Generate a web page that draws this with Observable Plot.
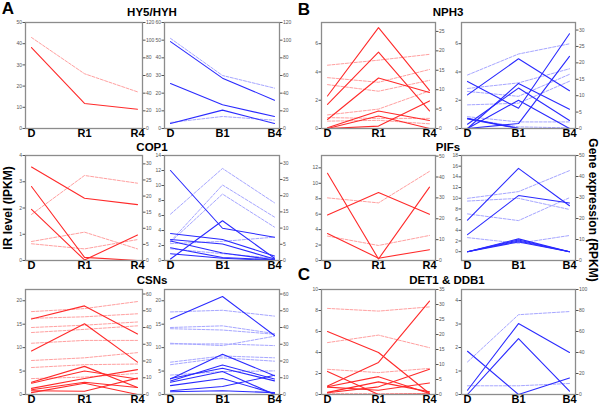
<!DOCTYPE html>
<html><head><meta charset="utf-8">
<script src="https://cdn.jsdelivr.net/npm/d3@7"></script>
<script src="https://cdn.jsdelivr.net/npm/@observablehq/plot@0.6"></script>
<style>
body{margin:0;background:#fff;font-family:"Liberation Sans",Arial,sans-serif;}
#root{position:relative;width:600px;height:407px;overflow:hidden;background:#fff;}
.lbl{position:absolute;font-weight:bold;color:#000;white-space:nowrap;line-height:1;}
.ttl{line-height:0.9;}
</style></head><body><div id="root"></div>
<script>
// ---------- categories ----------
const redCats = ["D", "R1", "R4"];
const blueCats = ["D", "B1", "B4"];

// ---------- HY5/HYH ----------
const hy5RedIR = [[38.2, 11.8, 9.1]];
const hy5RedExpr = [[103, 62, 41.5]];
const hy5RedLeft = [0, 50], hy5RedLeftTicks = [0, 10, 20, 30, 40, 50];
const hy5RedRight = [0, 120], hy5RedRightTicks = [0, 20, 40, 60, 80, 100, 120];

const hy5BlueIR = [[49.2, 28.5, 16.0], [25.5, 13.4, 6.8], [2.8, 10.4, 2.8]];
const hy5BlueExpr = [[102, 60, 45.7], [6.8, 13.6, 9.4]];
const hy5BlueLeft = [0, 60], hy5BlueLeftTicks = [0, 10, 20, 30, 40, 50, 60];
const hy5BlueRight = [0, 120], hy5BlueRightTicks = [0, 20, 40, 60, 80, 100, 120];

// ---------- COP1 ----------
const cop1RedIR = [[3.56, 2.37, 2.13], [2.82, 0.12, 0.0], [1.95, 0.02, 0.97], [0, 0, 0]];
const cop1RedExpr = [[14.3, 26.4, 24.0], [5.9, 8.8, 3.6], [5.2, 3.6, 6.5]];
const cop1RedLeft = [0, 4], cop1RedLeftTicks = [0, 1, 2, 3, 4];
const cop1RedRight = [0, 32.6], cop1RedRightTicks = [0, 5, 10, 15, 20, 25, 30];

const cop1BlueIR = [[12.0, 4.3, 3.1], [0.2, 5.3, 0.3], [3.6, 2.8, 0.6], [2.8, 2.2, 0.2],
                    [2.6, 1.0, 0.1], [1.7, 0.4, 0.1], [0.9, 0.3, 0.0]];
const cop1BlueExpr = [[14.3, 28.4, 17.8], [5.9, 23.3, 13.4], [5.7, 20.5, 10.3], [5.2, 5.9, 7.2], [3.6, 2.1, 0.7]];
const cop1BlueLeft = [0, 14], cop1BlueLeftTicks = [0, 2, 4, 6, 8, 10, 12, 14];
const cop1BlueRight = [0, 32.4], cop1BlueRightTicks = [0, 5, 10, 15, 20, 25, 30];

// ---------- CSNs ----------
const csnRedIR = [[16.1, 18.9, 12.9], [9.3, 15.1, 6.9], [2.6, 6.0, 1.5], [2.4, 5.0, 3.3], [1.3, 3.4, 5.3],
                  [1.0, 2.6, 1.5], [0.8, 0.7, 3.5], [0.4, 2.4, 0.0], [0, 0, 0]];
const csnRedExpr = [[49.5, 51.3, 55.5], [45.5, 46.4, 48.2], [40, 41.4, 43.3], [37, 38.9, 41],
                    [30.6, 32.3, 32.3], [20.3, 21.9, 25], [16.1, 17.8, 18.2], [9.5, 10.4, 12.6]];
const csnRedLeft = [0, 22.4], csnRedLeftTicks = [0, 5, 10, 15, 20];
const csnRedRight = [0, 62.7], csnRedRightTicks = [0, 10, 20, 30, 40, 50, 60];

const csnBlueIR = [[16.1, 20.9, 12.6], [3.3, 8.6, 4.0], [2.9, 6.3, 3.3], [3.4, 5.6, 2.9],
                   [2.6, 4.9, 0], [1.9, 3.4, 0.2], [0.8, 1.7, 4.1], [0.6, 0.8, 0.4]];
const csnBlueExpr = [[49.3, 50.3, 46.8], [40, 41, 36.4], [39.3, 38.5, 36], [30.6, 29.2, 34.8],
                     [30.2, 30.2, 29.2], [19.3, 23, 21.9], [17.8, 21.9, 19.9], [11.6, 13.7, 14.1]];
const csnBlueLeft = [0, 22.4], csnBlueLeftTicks = [0, 5, 10, 15, 20];
const csnBlueRight = [0, 62.7], csnBlueRightTicks = [0, 10, 20, 30, 40, 50, 60];

// ---------- NPH3 ----------
const nph3RedIR = [[2.3, 7.14, 2.7], [1.7, 5.4, 1.24], [0.64, 3.57, 2.55], [0.05, 1.24, 0.57],
                   [0, 0.88, 0], [0, 0.17, 1.95]];
const nph3RedExpr = [[16.3, 17.6, 19.1], [13.1, 11.9, 15.2], [11.3, 9.6, 12.4], [3.5, 5.0, 9.7],
                     [2.8, 2.6, 2.6], [1.9, 2.1, 1.2]];
const nph3RedLeft = [0, 7.5], nph3RedLeftTicks = [0, 2, 4, 6];
const nph3RedRight = [0, 27.3], nph3RedRightTicks = [0, 5, 10, 15, 20, 25];

const nph3BlueIR = [[2.38, 4.93, 2.67], [3.33, 1.43, 6.7], [0, 3.19, 1.36], [0.3, 2.86, 0.57],
                    [0, 2.0, 0], [0, 0.35, 5.1], [0.72, 0.02, 0], [0.68, 0, 0]];
const nph3BlueExpr = [[16.3, 22.7, 25.8], [12.2, 13.9, 18.2], [11.3, 9.8, 16.5], [7.2, 7.7, 14.4],
                      [3.6, 2.0, 2.0], [3.0, 0.5, 0.2]];
const nph3BlueLeft = [0, 7.5], nph3BlueLeftTicks = [0, 2, 4, 6];
const nph3BlueRight = [0, 32.3], nph3BlueRightTicks = [0, 5, 10, 15, 20, 25, 30];

// ---------- PIFs ----------
const pifRedIR = [[11.3, 0.2, 9.5], [5.9, 8.8, 6.0], [3.5, 0.3, 1.4]];
const pifRedExpr = [[30, 27.6, 42.7], [11.7, 7.2, 12.0]];
const pifRedLeft = [0, 13.6], pifRedLeftTicks = [0, 2, 4, 6, 8, 10, 12];
const pifRedRight = [0, 50.3], pifRedRightTicks = [0, 10, 20, 30, 40, 50];

const pifBlueIR = [[5.9, 15.6, 8.6], [3.2, 10.5, 9.1], [0, 2.4, 0], [0, 2.0, 0], [0, 1.8, 0], [0, 2.2, 0]];
const pifBlueExpr = [[29.6, 32.8, 42.8], [28.3, 29.6, 24.3], [22.2, 19.0, 29.9], [10.9, 8.2, 11.9]];
const pifBlueLeft = [-1.65, 18], pifBlueLeftTicks = [0, 2, 4, 6, 8, 10, 12, 14, 16, 18];
const pifBlueRight = [0, 50], pifBlueRightTicks = [0, 10, 20, 30, 40, 50];

// ---------- DET1 & DDB1 ----------
const detRedIR = [[0.8, 3.05, 8.9], [6.0, 4.0, 0.1], [2.2, 0, 0.05], [0.73, 1.7, 0.1],
                  [0.2, 1.2, 0.25], [0.16, 0.73, 2.4], [0.7, 0.4, 1.1], [0, 0, 0]];
const detRedExpr = [[28.7, 27.8, 29.2], [17.3, 19.8, 15.6], [8.4, 7.3, 8.7], [0.3, 0.3, 0.3]];
const detRedLeft = [0, 10], detRedLeftTicks = [0, 2, 4, 6, 8, 10];
const detRedRight = [0, 35], detRedRightTicks = [0, 5, 10, 15, 20, 25, 30, 35];

const detBlueIR = [[1.84, 0, 0.7], [0.18, 3.02, 1.79], [0, 2.38, 0.14]];
const detBlueExpr = [[31, 76, 79], [8.3, 8.3, 10.5]];
const detBlueLeft = [0, 4.47], detBlueLeftTicks = [0, 1, 2, 3, 4];
const detBlueRight = [0, 100], detBlueRightTicks = [0, 20, 40, 60, 80, 100];

// ---------- text ----------
const panelTitles = ["HY5/HYH", "COP1", "CSNs", "NPH3", "PIFs", "DET1 & DDB1"];
const panelLetters = ["A", "B", "C"];
const leftAxisTitle = "IR level (IPKM)";
const rightAxisTitle = "Gene expression (RPKM)";

// ---------- layout (positions only) ----------
const colFrames = [[25, 142], [164, 279], [321, 435], [461, 575]];
const rowFrames = [[22, 128], [155, 260], [289, 394]];

const panels = [
  {cats: redCats,  ir: hy5RedIR,  expr: hy5RedExpr,  left: hy5RedLeft,  lt: hy5RedLeftTicks,  right: hy5RedRight,  rt: hy5RedRightTicks,  c: "red",  col: 0, row: 0},
  {cats: blueCats, ir: hy5BlueIR, expr: hy5BlueExpr, left: hy5BlueLeft, lt: hy5BlueLeftTicks, right: hy5BlueRight, rt: hy5BlueRightTicks, c: "blue", col: 1, row: 0},
  {cats: redCats,  ir: cop1RedIR,  expr: cop1RedExpr,  left: cop1RedLeft,  lt: cop1RedLeftTicks,  right: cop1RedRight,  rt: cop1RedRightTicks,  c: "red",  col: 0, row: 1},
  {cats: blueCats, ir: cop1BlueIR, expr: cop1BlueExpr, left: cop1BlueLeft, lt: cop1BlueLeftTicks, right: cop1BlueRight, rt: cop1BlueRightTicks, c: "blue", col: 1, row: 1},
  {cats: redCats,  ir: csnRedIR,  expr: csnRedExpr,  left: csnRedLeft,  lt: csnRedLeftTicks,  right: csnRedRight,  rt: csnRedRightTicks,  c: "red",  col: 0, row: 2},
  {cats: blueCats, ir: csnBlueIR, expr: csnBlueExpr, left: csnBlueLeft, lt: csnBlueLeftTicks, right: csnBlueRight, rt: csnBlueRightTicks, c: "blue", col: 1, row: 2},
  {cats: redCats,  ir: nph3RedIR,  expr: nph3RedExpr,  left: nph3RedLeft,  lt: nph3RedLeftTicks,  right: nph3RedRight,  rt: nph3RedRightTicks,  c: "red",  col: 2, row: 0},
  {cats: blueCats, ir: nph3BlueIR, expr: nph3BlueExpr, left: nph3BlueLeft, lt: nph3BlueLeftTicks, right: nph3BlueRight, rt: nph3BlueRightTicks, c: "blue", col: 3, row: 0},
  {cats: redCats,  ir: pifRedIR,  expr: pifRedExpr,  left: pifRedLeft,  lt: pifRedLeftTicks,  right: pifRedRight,  rt: pifRedRightTicks,  c: "red",  col: 2, row: 1},
  {cats: blueCats, ir: pifBlueIR, expr: pifBlueExpr, left: pifBlueLeft, lt: pifBlueLeftTicks, right: pifBlueRight, rt: pifBlueRightTicks, c: "blue", col: 3, row: 1},
  {cats: redCats,  ir: detRedIR,  expr: detRedExpr,  left: detRedLeft,  lt: detRedLeftTicks,  right: detRedRight,  rt: detRedRightTicks,  c: "red",  col: 2, row: 2},
  {cats: blueCats, ir: detBlueIR, expr: detBlueExpr, left: detBlueLeft, lt: detBlueLeftTicks, right: detBlueRight, rt: detBlueRightTicks, c: "blue", col: 3, row: 2}
];

const palettes = {
  red:  {solid: "#ff2a2a", dash: "#ffa0a0"},
  blue: {solid: "#2a2aff", dash: "#a6a6ff"}
};

const root = document.getElementById("root");

function drawPanel(p) {
  const [fx0, fx1] = colFrames[p.col];
  const [fy0, fy1] = rowFrames[p.row];
  const mL = 22, mR = 22, mT = 4, mB = 22;
  const W = fx1 - fx0 + mL + mR, H = fy1 - fy0 + mT + mB;
  const [l0, l1] = p.left, [r0, r1] = p.right;
  const toLeft = v => l0 + (v - r0) * (l1 - l0) / (r1 - r0);
  const fromLeft = y => r0 + (y - l0) * (r1 - r0) / (l1 - l0);
  const tidy = series => series.flatMap((vals, s) => vals.map((v, j) => ({x: p.cats[j], v, s})));
  const pal = palettes[p.c];
  const svg = Plot.plot({
    width: W, height: H,
    marginLeft: mL, marginRight: mR, marginTop: mT, marginBottom: mB,
    style: {background: "transparent", fontFamily: "Liberation Sans, Arial, sans-serif", overflow: "visible"},
    x: {type: "point", domain: p.cats, padding: 0.1},
    y: {domain: [l0, l1]},
    marks: [
      Plot.line(tidy(p.expr), {x: "x", y: d => toLeft(d.v), z: "s", stroke: pal.dash, strokeWidth: 1, strokeDasharray: "3,1.5"}),
      Plot.line(tidy(p.ir), {x: "x", y: "v", z: "s", stroke: pal.solid, strokeWidth: 1.1}),
      Plot.frame({stroke: "#8c8c8c", strokeWidth: 1.3}),
      Plot.axisY(p.lt, {anchor: "left", tickSize: 2.5, tickPadding: 1, fontSize: 5, label: null, color: "#555"}),
      Plot.axisY(p.rt.map(toLeft), {anchor: "right", tickSize: 2.5, tickPadding: 1, fontSize: 5, label: null, color: "#555",
        tickFormat: y => String(Math.round(fromLeft(y)))}),
      Plot.axisX({tickSize: 0, tickPadding: 1, fontSize: 11, fontWeight: "bold", color: "#000", label: null})
    ]
  });
  svg.style.position = "absolute";
  svg.style.left = (fx0 - mL) + "px";
  svg.style.top = (fy0 - mT) + "px";
  root.appendChild(svg);
}
panels.forEach(drawPanel);

function addLabel(text, cx, cy, size, rotate, cls) {
  const d = document.createElement("div");
  d.className = "lbl" + (cls ? " " + cls : "");
  d.textContent = text;
  d.style.fontSize = size + "px";
  d.style.left = cx + "px";
  d.style.top = cy + "px";
  d.style.transform = "translate(-50%,-50%)" + (rotate ? ` rotate(${rotate}deg)` : "");
  root.appendChild(d);
}
const titlePos = [[152, 11.5], [152, 146.6], [152, 280], [448, 11.5], [448, 146.6], [447, 280]];
panelTitles.forEach((t, i) => addLabel(t, titlePos[i][0], titlePos[i][1], 11.5, 0, "ttl"));
const letterPos = [[8, 8], [304, 9], [304, 274]];
panelLetters.forEach((t, i) => addLabel(t, letterPos[i][0], letterPos[i][1], 17));
addLabel(leftAxisTitle, 8, 208, 12, -90);
addLabel(rightAxisTitle, 593, 210, 12, 90);
</script></body></html>
